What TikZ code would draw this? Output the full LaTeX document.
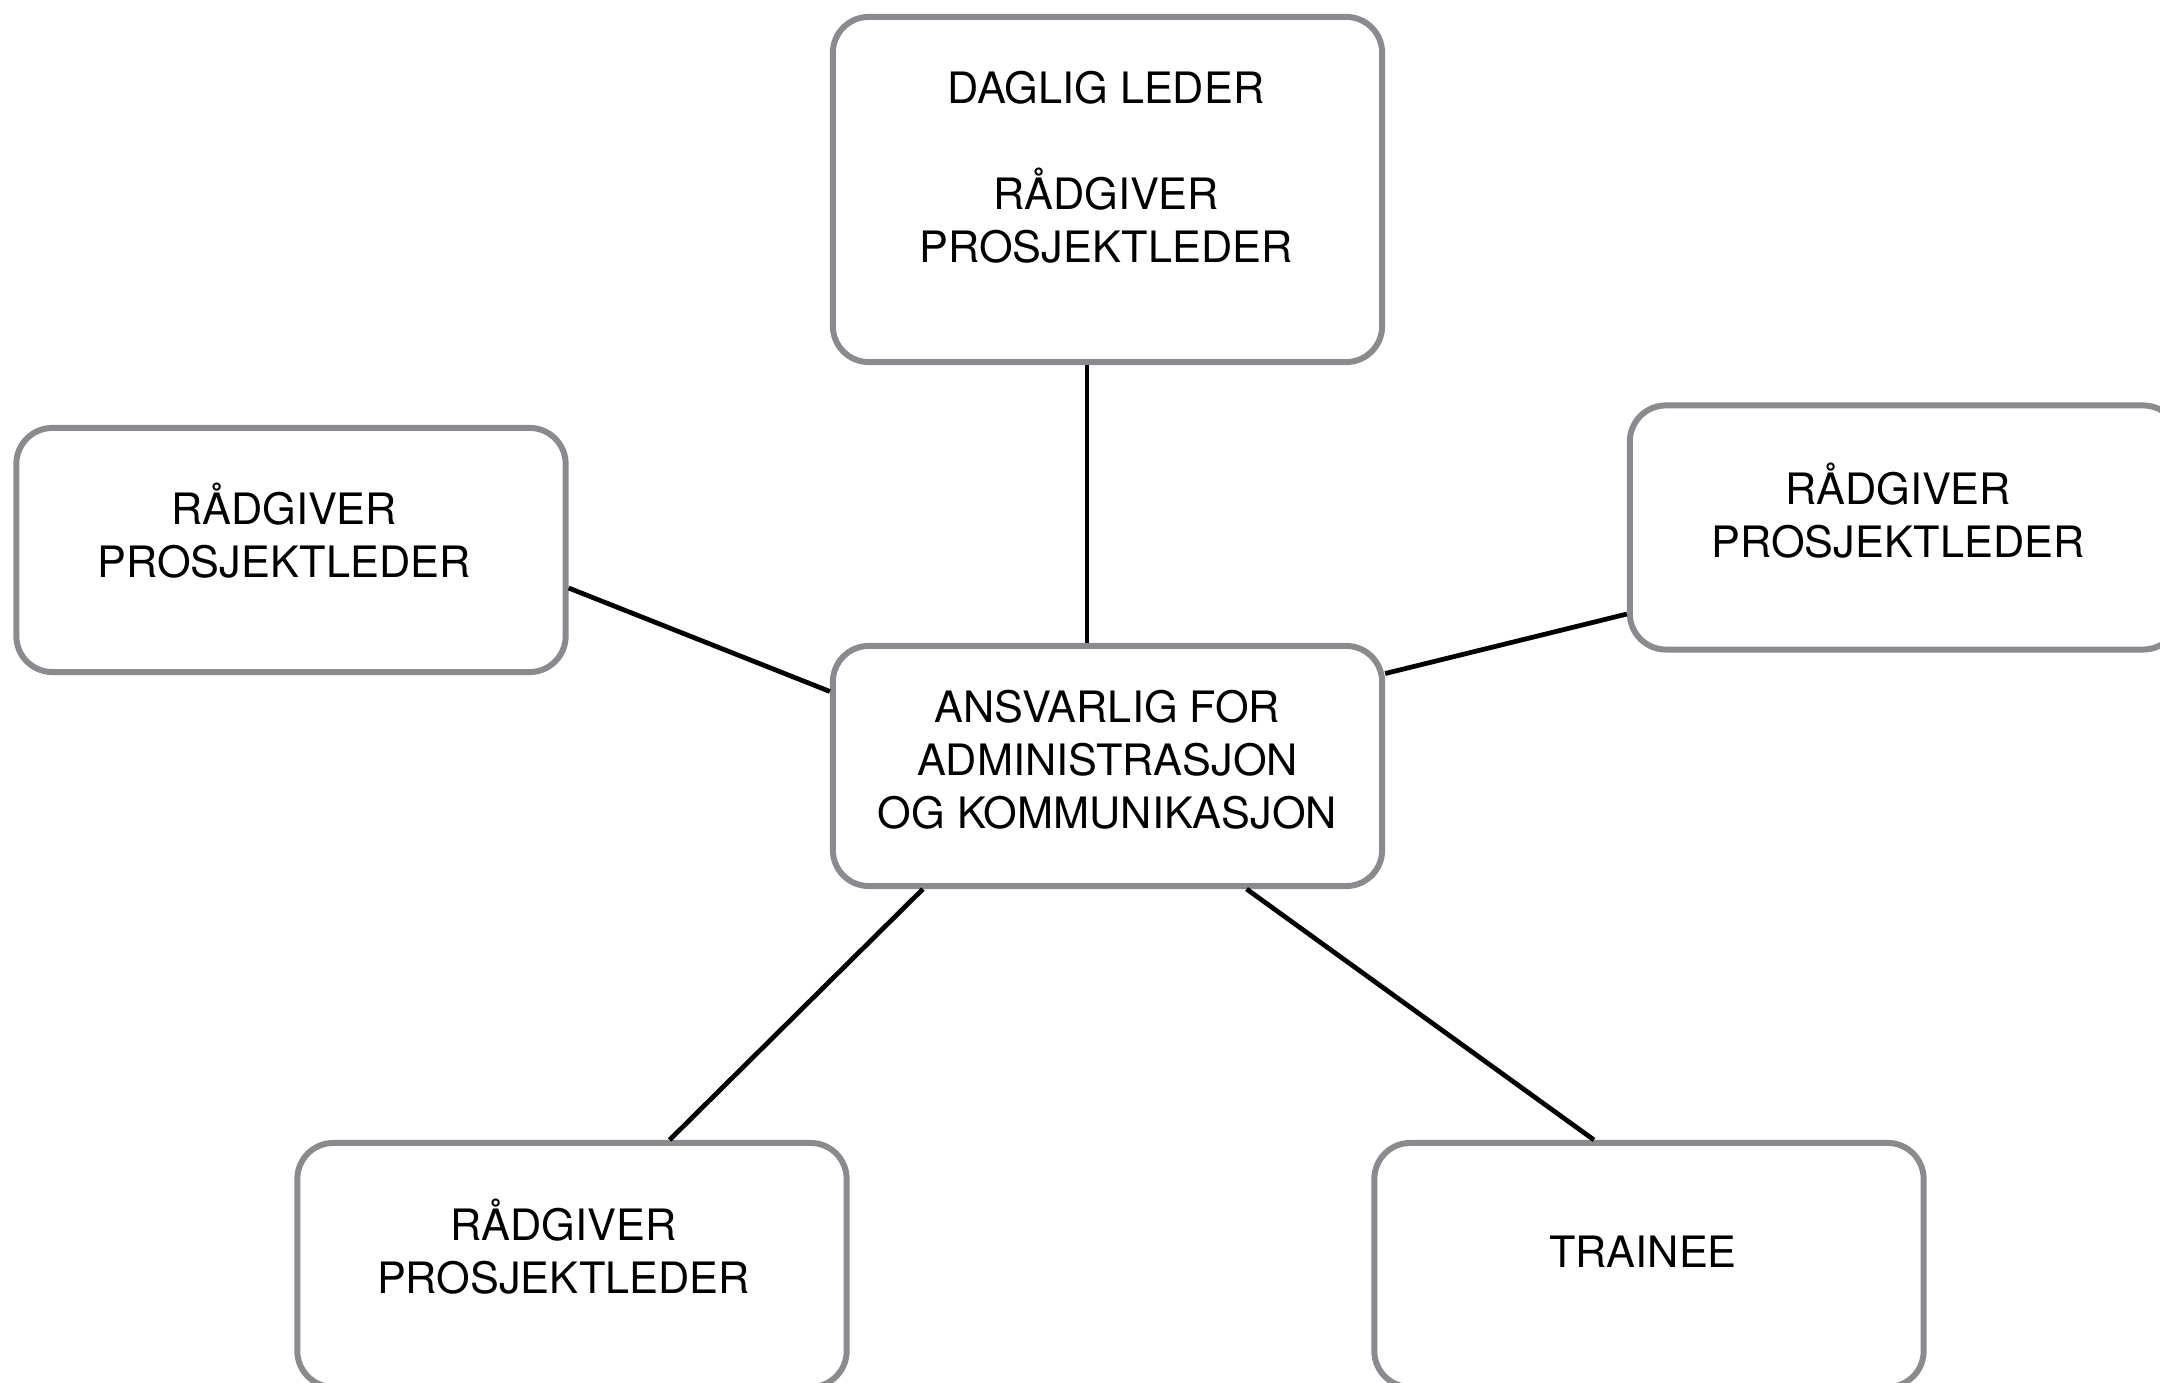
\documentclass[tikz,border=0pt]{standalone}
\usepackage{fontspec}
\setmainfont{TeX Gyre Heros}
\definecolor{boxgray}{RGB}{137,139,142}
\begin{document}
\begin{tikzpicture}[x=0.01cm,y=-0.01cm,
  box/.style={draw=boxgray, line width=1.7pt, rounded corners=0.36cm, fill=white,
    minimum width=5.49cm, minimum height=2.44cm, inner sep=0pt},
  txt/.style={align=center, inner sep=0pt, font=\fontsize{12.3}{15.1}\selectfont},
  link/.style={draw=black, line width=1.35pt}]
\useasboundingbox (0,0) rectangle (2160,1383);
\clip (0,0) rectangle (2160,1383);
% boxes
\node[box, minimum height=3.45cm] (top) at (1107.5,189.5) {};
\node[box] (lft) at (291,550) {};
\node[box] (rgt) at (1904.5,527.5) {};
\node[box, minimum height=2.40cm] (ctr) at (1107.5,766) {};
\node[box] (bl) at (572,1265) {};
\node[box] (br) at (1649,1265) {};
% texts
\node[txt] (ttop) at (1106,167) {DAGLIG LEDER\\\mbox{}\\RÅDGIVER\\PROSJEKTLEDER};
\node[txt] (tlft) at (284,531) {RÅDGIVER\\PROSJEKTLEDER};
\node[txt] (trgt) at (1898,511) {RÅDGIVER\\PROSJEKTLEDER};
\node[txt] (tctr) at (1107.5,760) {ANSVARLIG FOR\\ADMINISTRASJON\\OG KOMMUNIKASJON};
\node[txt] (tbl) at (563.5,1247) {RÅDGIVER\\PROSJEKTLEDER};
\node[txt] (tbr) at (1643,1252) {TRAINEE};
% connectors
\draw[link] ([xshift=-0.205cm]top.south) -- ([xshift=-0.205cm]ctr.north);
\draw[link] ([yshift=-0.38cm]lft.east) -- ([yshift=0.745cm]ctr.west);
\draw[link] ([yshift=0.924cm]ctr.east) -- ([yshift=-0.865cm]rgt.west);
\draw[link] ([xshift=-1.845cm]ctr.south) -- ([xshift=0.975cm]bl.north);
\draw[link] ([xshift=1.39cm]ctr.south) -- ([xshift=-0.55cm]br.north);
\end{tikzpicture}
\end{document}
